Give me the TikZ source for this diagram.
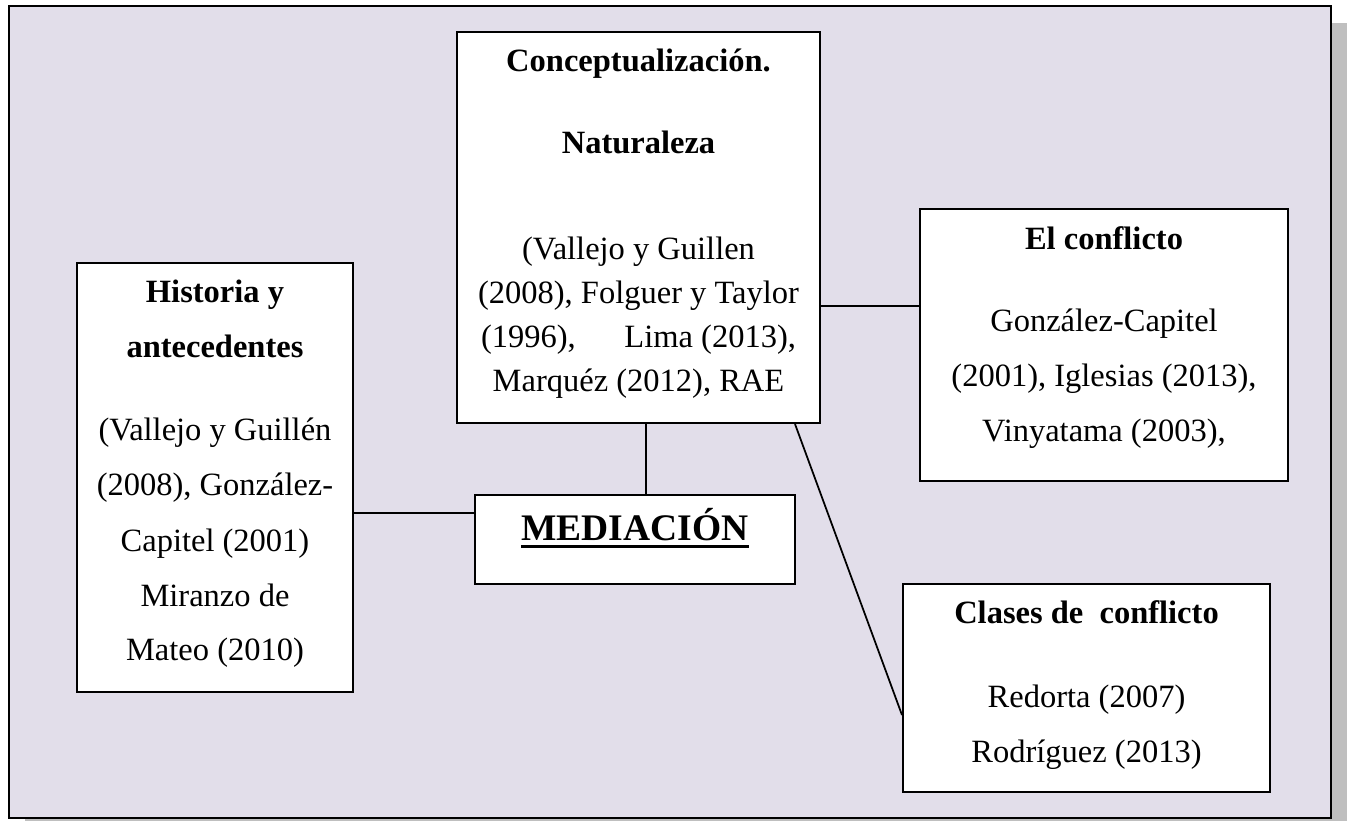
\documentclass[tikz,border=0pt]{standalone}
\usepackage{fontspec}
\setmainfont{Liberation Serif}
\usetikzlibrary{positioning}

\definecolor{fondo}{RGB}{226,222,234}
\definecolor{sombra}{RGB}{191,191,191}

\newsavebox{\cajasub}
\newcommand{\subrayado}[1]{\sbox{\cajasub}{#1}\rlap{\usebox{\cajasub}}\rule[-3pt]{\wd\cajasub}{1.2pt}}

\tikzset{
  caja/.style={draw, fill=white, line width=0.8pt, inner sep=0pt},
  texto/.style={inner sep=0pt, align=center, font=\fontsize{13}{17.6}\selectfont},
  linea/.style={line width=0.7pt},
}

\begin{document}
\begin{tikzpicture}[x=0.4pt, y=-0.4pt]
  \useasboundingbox (0,0) rectangle (1349,821);
  \fill [sombra] (25,23) rectangle (1347,821); % Draws the shadow
  \draw [line width=1pt, fill=fondo] (9,6) rectangle (1331,818); % Draws the frame

  \node [caja, minimum width=145.2pt, minimum height=156.4pt] (concepto) at (638.5,227.5) {};
  \node [caja, minimum width=110.4pt, minimum height=171.6pt] (historia) at (215,477.5) {};
  \node [caja, minimum width=147.2pt, minimum height=108.8pt] (conflicto) at (1104,345) {};
  \node [caja, minimum width=128pt, minimum height=35.6pt] (mediacion) at (635,539.5) {};
  \node [caja, minimum width=146.8pt, minimum height=83.2pt] (clases) at (1086.5,688) {};

  \node [texto, below=3.7pt of concepto.north] (tconcepto) {\strut\textbf{Conceptualización.}\\[15.2pt]
    \textbf{Naturaleza}\\[24.6pt]
    (Vallejo y Guillen\\
    (2008), Folguer y Taylor\\
    \makebox[126pt]{(1996),\hfill Lima (2013),}\\
    Marquéz (2012), RAE};
  \node [texto, below=3.7pt of historia.north] (thistoria) {\strut\textbf{Historia y}\\[4.4pt]
    \textbf{antecedentes}\\[15.4pt]
    (Vallejo y Guillén\\[4.4pt]
    (2008), González-\\[5pt]
    Capitel (2001)\\[4.4pt]
    Miranzo de\\[3.8pt]
    Mateo (2010)};
  \node [texto, below=4.1pt of conflicto.north] (tconflicto) {\strut\textbf{El conflicto}\\[15.2pt]
    González-Capitel\\[4.4pt]
    (2001), Iglesias (2013),\\[4.4pt]
    Vinyatama (2003),};
  \node [texto, below=3.8pt of clases.north] (tclases) {\strut\textbf{Clases de\ \ conflicto}\\[16pt]
    Redorta (2007)\\[4.4pt]
    Rodríguez (2013)};
  \node [texto, font=\fontsize{15}{20}\selectfont, below=4.4pt of mediacion.north] (tmediacion) {\strut\textbf{\subrayado{MEDIACIÓN}}};

  % connectors
  \coordinate (ph) at (0,513);
  \coordinate (pm) at (646,0);
  \coordinate (pc) at (0,306);
  \coordinate (pd) at (795,715);
  \draw [linea] (historia.east |- ph) -- (mediacion.west |- ph);
  \draw [linea] (concepto.south -| pm) -- (mediacion.north -| pm);
  \draw [linea] (concepto.east |- pc) -- (conflicto.west |- pc);
  \draw [linea] (concepto.south -| pd) -- (clases.west |- pd);
\end{tikzpicture}
\end{document}
